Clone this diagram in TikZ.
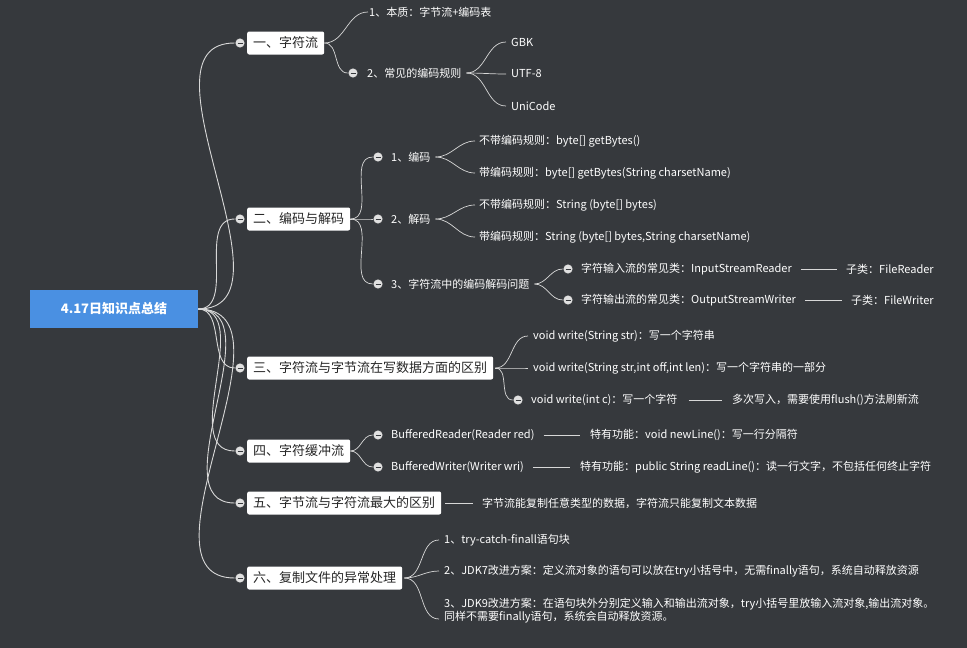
\documentclass[tikz,border=0pt]{standalone}
\usepackage{fontspec}
\setmainfont{Noto Sans CJK SC}
\definecolor{bg}{HTML}{36393D}
\definecolor{rootblue}{HTML}{4A90E2}
\definecolor{linkgray}{HTML}{D8D8D8}
\begin{document}
\begin{tikzpicture}[x=1pt,y=-1pt,
    root/.style={fill=rootblue,text=white,minimum width=168,minimum height=38,font=\fontsize{13}{15}\selectfont\bfseries},
    topic/.style={fill=white,rounded corners=2pt,text=black!85,anchor=west,inner xsep=6pt,minimum height=23,font=\fontsize{13}{15}\selectfont},
    sub/.style={text=white,anchor=west,inner sep=1pt,font=\fontsize{11}{13}\selectfont},
    dot/.style={circle,fill=white!88!black,draw=bg,line width=0.6pt,inner sep=0pt,minimum size=10pt,
      path picture={\draw[bg,line width=1pt] ([xshift=-2.5pt]path picture bounding box.center) -- ([xshift=2.5pt]path picture bounding box.center);}},
    link/.style={linkgray,line width=0.9pt},
    tie/.style={linkgray,line width=0.7pt}]
  \fill[bg] (0,0) rectangle (967,648);
  \useasboundingbox (0,0) rectangle (967,648);
  % root and main topics
  \node[root] (root) at (114,309) {4.17日知识点总结};
  \node[topic] (t1) at (247,43) {一、字符流};
  \node[topic] (t2) at (247,219) {二、编码与解码};
  \node[topic] (t3) at (247,368) {三、字符流与字节流在写数据方面的区别};
  \node[topic] (t4) at (247,451) {四、字符缓冲流};
  \node[topic] (t5) at (247,503) {五、字节流与字符流最大的区别};
  \node[topic] (t6) at (247,578) {六、复制文件的异常处理};
  \foreach \i/\y in {1/43,2/219,3/368,4/451,5/503,6/578} {
    \node[dot] (d\i) at (240,\y) {};
    \draw[link] (root.east) to[out=0,in=180] (d\i);
  }
  % one
  \node[sub] (a1) at (368,12) {1、本质：字节流+编码表};
  \node[dot] (da2) at (353,73) {};
  \node[sub] (a2) at (366,73) {2、常见的编码规则};
  \draw[tie] (t1.east) to[out=0,in=180] (a1.west);
  \draw[tie] (t1.east) to[out=0,in=180] (da2);
  \foreach \n/\y/\s in {g1/42/GBK,g2/74/UTF-8,g3/106/UniCode} {
    \node[sub] (\n) at (510,\y) {\s};
    \draw[tie] ([xshift=4pt]a2.east) to[out=0,in=180] ([xshift=-4pt]\n.west);
  }
  % two
  \node[dot] (db1) at (378,157) {};
  \node[sub] (b1) at (390,157) {1、编码};
  \node[dot] (db2) at (378,219) {};
  \node[sub] (b2) at (390,219) {2、解码};
  \node[dot] (db3) at (378,284) {};
  \node[sub] (b3) at (390,284) {3、字符流中的编码解码问题};
  \foreach \n in {db1,db2,db3} \draw[tie] (t2.east) to[out=0,in=180] (\n);
  \node[sub] (b11) at (478,141) {不带编码规则：byte[] getBytes()};
  \node[sub] (b12) at (478,173) {带编码规则：byte[] getBytes(String charsetName)};
  \node[sub] (b21) at (478,205) {不带编码规则：String (byte[] bytes)};
  \node[sub] (b22) at (478,237) {带编码规则：String (byte[] bytes,String charsetName)};
  \foreach \p/\n in {b1/b11,b1/b12,b2/b21,b2/b22} \draw[tie] ([xshift=4pt]\p.east) to[out=0,in=180] ([xshift=-3pt]\n.west);
  \node[dot] (db31) at (568,269) {};
  \node[sub] (b31) at (580,269) {字符输入流的常见类：InputStreamReader};
  \node[dot] (db32) at (568,300) {};
  \node[sub] (b32) at (580,300) {字符输出流的常见类：OutputStreamWriter};
  \foreach \n in {db31,db32} \draw[tie] ([xshift=4pt]b3.east) to[out=0,in=180] (\n);
  \node[sub] (c31) at (845,269) {子类：FileReader};
  \node[sub] (c32) at (850,300) {子类：FileWriter};
  \draw[tie] ([xshift=8pt]b31.east) -- ([xshift=-8pt]c31.west);
  \draw[tie] ([xshift=8pt]b32.east) -- ([xshift=-8pt]c32.west);
  % three
  \node[sub] (w1) at (532,336) {void write(String str)：写一个字符串};
  \node[sub] (w2) at (532,368) {void write(String str,int off,int len)：写一个字符串的一部分};
  \node[dot] (dw3) at (518,400) {};
  \node[sub] (w3) at (530,400) {void write(int c)：写一个字符};
  \draw[tie] ([xshift=2pt]t3.east) to[out=0,in=180] ([xshift=-4pt]w1.west);
  \draw[tie] ([xshift=2pt]t3.east) to[out=0,in=180] ([xshift=-4pt]w2.west);
  \draw[tie] ([xshift=2pt]t3.east) to[out=0,in=180] (dw3);
  \node[sub] (w4) at (731,400) {多次写入，需要使用flush()方法刷新流};
  \draw[tie] ([xshift=10pt]w3.east) -- ([xshift=-9pt]w4.west);
  % four
  \node[dot] (dr1) at (378,435) {};
  \node[sub] (r1) at (390,435) {BufferedReader(Reader red)};
  \node[dot] (dr2) at (378,467) {};
  \node[sub] (r2) at (390,467) {BufferedWriter(Writer wri)};
  \foreach \n in {dr1,dr2} \draw[tie] (t4.east) to[out=0,in=180] (\n);
  \node[sub] (r11) at (589,435) {特有功能：void newLine()：写一行分隔符};
  \node[sub] (r21) at (579,467) {特有功能：public String readLine()：读一行文字，不包括任何终止字符};
  \draw[tie] ([xshift=8pt]r1.east) -- ([xshift=-9pt]r11.west);
  \draw[tie] ([xshift=8pt]r2.east) -- ([xshift=-9pt]r21.west);
  % five
  \node[sub] (s1) at (481,503) {字节流能复制任意类型的数据，字符流只能复制文本数据};
  \draw[tie] ([xshift=4pt]t5.east) -- ([xshift=-8pt]s1.west);
  % six
  \node[sub] (e1) at (443,540) {1、try-catch-finall语句块};
  \node[sub] (e2) at (443,571) {2、JDK7改进方案：定义流对象的语句可以放在try小括号中，无需finally语句，系统自动释放资源};
  \node[sub,align=left] (e3) at (443,611) {3、JDK9改进方案：在语句块外分别定义输入和输出流对象，try小括号里放输入流对象,输出流对象。\\同样不需要finally语句，系统会自动释放资源。};
  \foreach \n in {e1,e2} \draw[tie] ([xshift=2pt]t6.east) to[out=0,in=180] ([xshift=-4pt]\n.west);
  \draw[tie] ([xshift=2pt]t6.east) to[out=0,in=180] ([xshift=-4pt,yshift=-8pt]e3.west);
\end{tikzpicture}
\end{document}
